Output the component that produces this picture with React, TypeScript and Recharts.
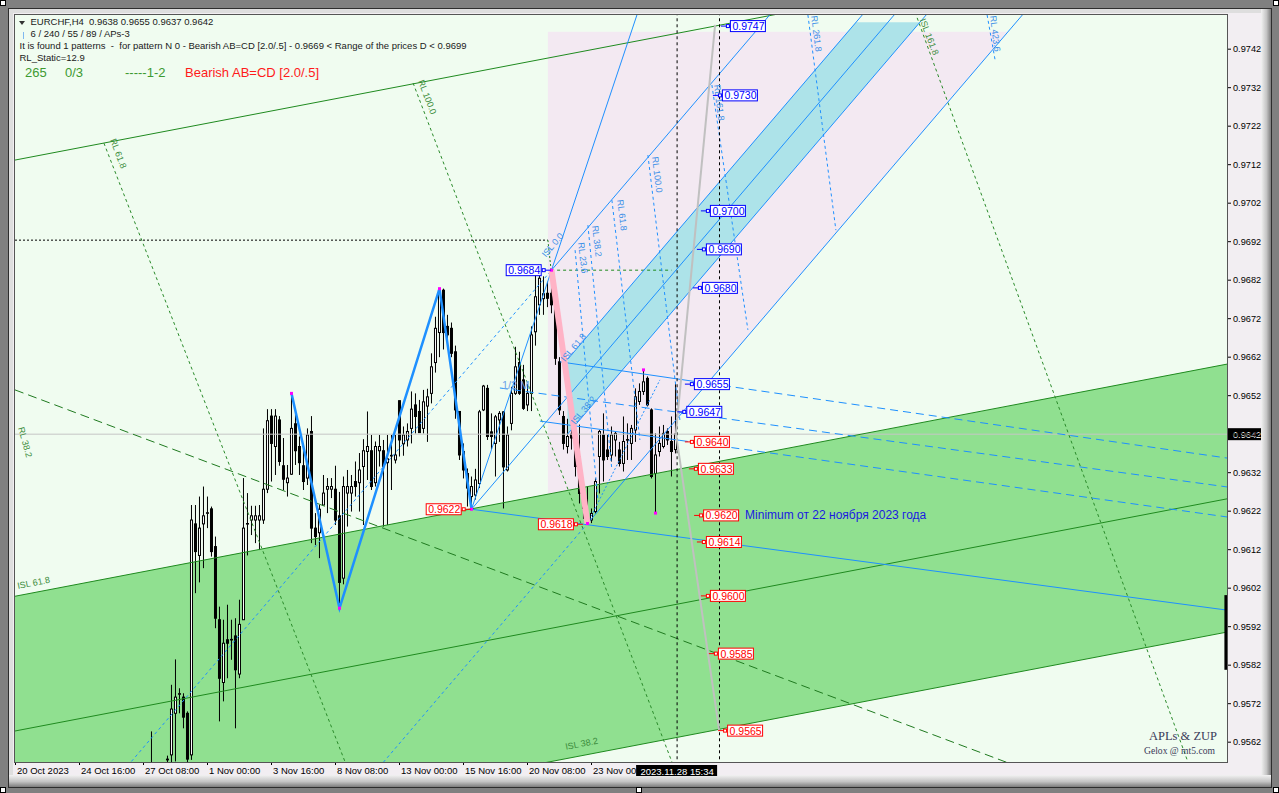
import React from 'react';
import { ComposedChart, Bar, Line, Area, XAxis, YAxis, CartesianGrid, ReferenceDot } from 'recharts';

// H4 bars numbered from 20 Oct 2023 00:00 (bar 0).
// null = bar entirely below the visible price range.
const FIRST_BAR = 34;

const opens = [
  0.95530, null, null, null, 0.95574, 0.95587, 0.95695, 0.95745, 0.95737, 0.95695,
  0.95587, 0.96187, 0.96105, 0.96187, 0.96215, 0.96226, 0.96128, 0.95938, 0.95775, 0.95886,
  0.95886, 0.95896, 0.95797, 0.95938, 0.96187, 0.96197, 0.96197, 0.96197, 0.96197, 0.96277,
  0.96467, 0.96388, 0.96457, 0.96338, 0.96294, 0.96316, 0.96447, 0.96388, 0.96338, 0.96306,
  0.96427, 0.96176, 0.96164, 0.96236, 0.96277, 0.96277, 0.96277, 0.96208, 0.96046, 0.96267,
  0.96267, 0.96297, 0.96294, 0.96336, 0.96375, 0.96377, 0.96294, 0.96377, 0.96377, 0.96346,
  0.96364, 0.96353, 0.96507, 0.96395, 0.96405, 0.96435, 0.96496, 0.96479, 0.96435, 0.96493,
  0.96526, 0.96606, 0.96684, 0.96794, 0.96700, 0.96695, 0.96634, 0.96479, 0.96375, 0.96318,
  0.96258, 0.96262, 0.96292, 0.96483, 0.96539, 0.96426, 0.96396, 0.96457, 0.96478, 0.96327,
  0.96448, 0.96526, 0.96606, 0.96561, 0.96496, 0.96526, 0.96686, 0.96756, 0.96772, 0.96786,
  0.96786, 0.96747, 0.96608, 0.96466, 0.96388, 0.96420, 0.96410, 0.96362, 0.96266, 0.96214,
  0.96197, 0.96219, 0.96362, 0.96418, 0.96379, 0.96366, 0.96405, 0.96379, 0.96344, 0.96405,
  0.96396, 0.96431, 0.96505, 0.96531, 0.96565, 0.96483, 0.96318, 0.96375, 0.96388, 0.96427,
  0.96401, 0.96380,
];
const highs = [
  0.95648, null, null, null, 0.95585, 0.95769, 0.95835, 0.95760, 0.95747, 0.95700,
  0.96236, 0.96236, 0.96258, 0.96284, 0.96258, 0.96232, 0.96154, 0.95972, 0.95938, 0.95977,
  0.95938, 0.95942, 0.95990, 0.96306, 0.96267, 0.96234, 0.96234, 0.96236, 0.96435, 0.96485,
  0.96485, 0.96485, 0.96467, 0.96410, 0.96340, 0.96526, 0.96474, 0.96414, 0.96388, 0.96435,
  0.96467, 0.96215, 0.96236, 0.96314, 0.96306, 0.96306, 0.96338, 0.96270, 0.96310, 0.96327,
  0.96314, 0.96349, 0.96371, 0.96407, 0.96479, 0.96418, 0.96401, 0.96418, 0.96405, 0.96418,
  0.96418, 0.96418, 0.96507, 0.96440, 0.96448, 0.96531, 0.96526, 0.96509, 0.96535, 0.96538,
  0.96630, 0.96725, 0.96798, 0.96798, 0.96730, 0.96710, 0.96650, 0.96480, 0.96396, 0.96331,
  0.96310, 0.96330, 0.96483, 0.96548, 0.96548, 0.96474, 0.96470, 0.96480, 0.96480, 0.96440,
  0.96543, 0.96647, 0.96634, 0.96600, 0.96550, 0.96700, 0.96835, 0.96835, 0.96830, 0.96816,
  0.96846, 0.96760, 0.96620, 0.96480, 0.96460, 0.96440, 0.96430, 0.96445, 0.96280, 0.96284,
  0.96227, 0.96305, 0.96431, 0.96474, 0.96418, 0.96440, 0.96427, 0.96400, 0.96466, 0.96448,
  0.96444, 0.96539, 0.96552, 0.96587, 0.96570, 0.96487, 0.96422, 0.96440, 0.96444, 0.96435,
  0.96466, 0.96550,
];
const lows = [
  0.95500, null, null, null, 0.95560, 0.95560, 0.95570, 0.95695, 0.95656, 0.95560,
  0.95574, 0.96007, 0.96035, 0.96072, 0.96176, 0.96102, 0.95916, 0.95674, 0.95726, 0.95786,
  0.95834, 0.95656, 0.95786, 0.95938, 0.96105, 0.96158, 0.96137, 0.96119, 0.96187, 0.96267,
  0.96297, 0.96314, 0.96338, 0.96275, 0.96258, 0.96314, 0.96340, 0.96314, 0.96275, 0.96288,
  0.96137, 0.96132, 0.96098, 0.96236, 0.96215, 0.96254, 0.96184, 0.95968, 0.96030, 0.96180,
  0.96219, 0.96258, 0.96219, 0.96184, 0.96301, 0.96275, 0.96284, 0.96336, 0.96180, 0.96184,
  0.96275, 0.96344, 0.96362, 0.96364, 0.96388, 0.96396, 0.96422, 0.96423, 0.96422, 0.96400,
  0.96500, 0.96580, 0.96620, 0.96640, 0.96656, 0.96620, 0.96460, 0.96353, 0.96305, 0.96232,
  0.96225, 0.96250, 0.96280, 0.96480, 0.96405, 0.96380, 0.96310, 0.96400, 0.96227, 0.96323,
  0.96430, 0.96522, 0.96522, 0.96483, 0.96480, 0.96480, 0.96650, 0.96730, 0.96730, 0.96750,
  0.96734, 0.96600, 0.96470, 0.96380, 0.96370, 0.96380, 0.96310, 0.96240, 0.96200, 0.96188,
  0.96189, 0.96214, 0.96266, 0.96297, 0.96353, 0.96349, 0.96362, 0.96336, 0.96323, 0.96353,
  0.96353, 0.96400, 0.96496, 0.96522, 0.96492, 0.96305, 0.96215, 0.96362, 0.96383, 0.96392,
  0.96310, 0.96370,
];
const closes = [
  0.95520, null, null, null, 0.95576, 0.95706, 0.95737, 0.95746, 0.95685, 0.95576,
  0.96197, 0.96115, 0.96176, 0.96208, 0.96216, 0.96115, 0.95942, 0.95786, 0.95877, 0.95877,
  0.95887, 0.95808, 0.95926, 0.96176, 0.96188, 0.96208, 0.96208, 0.96208, 0.96277, 0.96455,
  0.96396, 0.96467, 0.96349, 0.96303, 0.96306, 0.96435, 0.96377, 0.96346, 0.96297, 0.96418,
  0.96176, 0.96154, 0.96225, 0.96267, 0.96284, 0.96284, 0.96197, 0.96035, 0.96284, 0.96284,
  0.96284, 0.96284, 0.96327, 0.96377, 0.96388, 0.96284, 0.96388, 0.96388, 0.96336, 0.96356,
  0.96365, 0.96366, 0.96405, 0.96418, 0.96427, 0.96485, 0.96466, 0.96424, 0.96504, 0.96517,
  0.96595, 0.96695, 0.96794, 0.96684, 0.96678, 0.96630, 0.96483, 0.96366, 0.96327, 0.96280,
  0.96284, 0.96301, 0.96478, 0.96545, 0.96414, 0.96414, 0.96465, 0.96474, 0.96335, 0.96418,
  0.96526, 0.96595, 0.96526, 0.96487, 0.96526, 0.96678, 0.96777, 0.96825, 0.96785, 0.96773,
  0.96756, 0.96617, 0.96483, 0.96396, 0.96414, 0.96410, 0.96336, 0.96266, 0.96227, 0.96201,
  0.96214, 0.96297, 0.96427, 0.96353, 0.96362, 0.96418, 0.96422, 0.96344, 0.96401, 0.96406,
  0.96435, 0.96517, 0.96531, 0.96556, 0.96496, 0.96310, 0.96366, 0.96396, 0.96422, 0.96405,
  0.96375, 0.96420,
];

const xTicks = [0, 16, 32, 48, 64, 80, 96, 112, 128, 144];
const xTickLabels = ['20 Oct 2023', '24 Oct 16:00', '27 Oct 08:00', '1 Nov 00:00', '3 Nov 16:00',
  '8 Nov 08:00', '13 Nov 00:00', '15 Nov 16:00', '20 Nov 08:00', '23 Nov 00'];
const yTicks = [0.9562, 0.9572, 0.9582, 0.9592, 0.9602, 0.9612, 0.9622, 0.9632, 0.9642, 0.9652,
  0.9662, 0.9672, 0.9682, 0.9692, 0.9702, 0.9712, 0.9722, 0.9732, 0.9742];
const currentPrice = 0.9642;
const cursorBar = 165.4;
const cursorTime = '2023.11.28 15:34';

// swing points [bar, price]
const zigzag = [[69, 0.96526], [81, 0.95968], [106, 0.96798], [114, 0.96225]];
const cdLeg = [[134, 0.96846], [143, 0.96188]];
const swingDots = [[69, 0.96526], [81, 0.95968], [106, 0.96798], [114, 0.96225], [134, 0.96846],
  [143, 0.96188], [157, 0.96587], [160, 0.96215]];

// pitchfork from 0.9622 / 0.9684 / 0.9618
const median = [[114, 0.96225], [240, 0.97756]];
const upperTine = [[134, 0.96846], [200, 0.97648]];
const upperTineBack = [[28, 0.95558], [134, 0.96846]];
const lowerTine = [[143, 0.96188], [270, 0.97731]];
const lowerTineBack = [[90, 0.95544], [143, 0.96188]];
const bandUpper = [[138, 0.96614], [215, 0.97549]];
const bandLower = [[138, 0.9642], [235, 0.97598]];
const bandFill = [{ i: 138, r: [0.9642, 0.96614] }, { i: 210.1, r: [0.97296, 0.9749] }, { i: 226.1, r: [0.9749, 0.9749] }];
const steepLine = [[114, 0.96225], [160, 0.97653]];

// ISL channel (green)
const channelTop = [[-0.125, 0.97132], [200, 0.9753]];
const channelUpper = [[-0.125, 0.95999], [302.875, 0.96602]];
const channelMid = [[-0.125, 0.95649], [302.875, 0.96252]];
const channelLower = [[-0.125, 0.95303], [302.875, 0.95906]];
const channelFill = [{ i: -0.125, r: [0.95303, 0.95999] }, { i: 302.875, r: [0.95906, 0.96602] }];
const zoneFillA = [{ i: 133.1, r: [0.96264, 0.97465] }, { i: 165.4, r: [0.96328, 0.97465] }];
const zoneFillB = [{ i: 165.4, r: [0.9646, 0.97465] }, { i: 248.1, r: [0.97465, 0.97465] }];
const greenDashed = [[-0.125, 0.96535], [260, 0.9552]];
const greenDotted = [
  [[22.1, 0.97176], [84, 0.95526]],
  [[99.4, 0.97332], [166, 0.95517]],
  [[224.9, 0.97516], [294, 0.95543]],
];
const level9684 = [[133.9, 0.96846], [164, 0.96846]];
const level9692 = [[-0.125, 0.96924], [133.1, 0.96924]];
const tick9692 = [[133.1, 0.96924], [133.9, 0.96846]];

// blue lines to the right
const solidBlue = [
  [[136.1, 0.96608], [170.4, 0.96556]],
  [[131.1, 0.96454], [166.1, 0.96404]],
  [[114, 0.96225], [302.875, 0.95963]],
];
const dashedBlue = [
  [[170.4, 0.96556], [302.875, 0.96358]],
  [[121.1, 0.9654], [302.875, 0.96283]],
  [[166.1, 0.96404], [302.875, 0.96205]],
];
const dottedBlue = [[143, 0.96188], [161.1, 0.96561]];
const rlLines = [
  [[139.9, 0.96898], [145.6, 0.96249]],
  [[143.1, 0.96963], [149.1, 0.96327]],
  [[149.1, 0.97028], [156.1, 0.96405]],
  [[158.1, 0.97145], [166.1, 0.96457]],
  [[174.1, 0.97327], [183.1, 0.96691]],
  [[198.1, 0.97509], [205.1, 0.9695]],
  [[242.9, 0.97509], [244.9, 0.97392]],
];
const grayUp = [[165.1, 0.96423], [174.9, 0.97483]];
const grayDown = [[165.1, 0.96423], [175.9, 0.95652]];
const verticals = [[[165.4, 0.9556], [165.4, 0.9752]], [[176, 0.9556], [176, 0.9752]]];
const edgeBar = [[302.6, 0.96002], [302.6, 0.95808]];

// price boxes: text, bar, price
const blueLevels = [['0.9747', 178.6, 0.9748], ['0.9730', 176.6, 0.9730], ['0.9700', 173.6, 0.9700],
  ['0.9690', 172.6, 0.9690], ['0.9680', 171.6, 0.9680], ['0.9655', 169.6, 0.9655], ['0.9647', 167.7, 0.96478]];
const redLevels = [['0.9640', 169.6, 0.9640], ['0.9633', 170.6, 0.9633], ['0.9620', 171.9, 0.96209],
  ['0.9614', 172.6, 0.9614], ['0.9600', 173.6, 0.9600], ['0.9585', 175.6, 0.9585], ['0.9565', 177.9, 0.9565]];
const pointLevels = [['0.9684', 131.55, 0.96846, '#0000ff'], ['0.9622', 111.55, 0.96225, '#ff0000'],
  ['0.9618', 139.6, 0.96186, '#ff0000']];

// rotated captions: text, bar, price, angle
const blueCaptions = [['RL 23.6', 140.6, 0.96917, 83], ['RL 38.2', 144.1, 0.96961, 83], ['RL 61.8', 150.4, 0.97028, 83],
  ['RL 100.0', 159.1, 0.9714, 83], ['RL 161.8', 174.6, 0.97327, 83], ['RL 261.8', 198.9, 0.97506, 83],
  ['RL 423.6', 243.6, 0.97506, 83], ['ISL 0.0', 132.6, 0.96878, -50], ['ISL 61.8', 137.4, 0.96607, -50],
  ['ISL 38.2', 139.9, 0.96444, -50]];
const greenCaptions = [['RL 61.8', 23.6, 0.97184, 69], ['RL 100.0', 100.6, 0.97337, 69], ['RL 38.2', 0.6, 0.96436, 74],
  ['ISL 61.8', 0.6, 0.96018, -11], ['ISL 38.2', 137.6, 0.9560, -11], ['ISL 161.8', 226, 0.97496, 69]];

const candleRows = opens
  .map((o, k) => (o == null ? null : {
    i: FIRST_BAR + k, o, h: highs[k] as number, l: lows[k] as number, c: closes[k] as number,
    range: [lows[k] as number, highs[k] as number],
  }))
  .filter(Boolean) as any[];

const FONT = '"Liberation Sans", Arial, sans-serif';

const Candle = (props: any) => {
  const { x, y, width, height, payload } = props;
  if (!payload || height == null) return null;
  const { o, h, l, c } = payload;
  const top = Math.min(y, y + height);
  const hh = Math.abs(height);
  const k = hh / (h - l || 1e-9);
  const cx = x + width / 2;
  const b1 = top + (h - Math.max(o, c)) * k;
  const b2 = top + (h - Math.min(o, c)) * k;
  const bull = c >= o;
  return (
    <g>
      <line x1={cx} x2={cx} y1={top} y2={top + hh} stroke="#000" strokeWidth={1} />
      <rect x={cx - 1} y={b1} width={2} height={Math.max(b2 - b1, 0.6)} fill={bull ? '#fff' : '#000'} stroke="#000" strokeWidth={1} />
    </g>
  );
};

const seg = (key: string, pts: any[], stroke: string, width = 1, dash?: string) => (
  <Line key={key} data={pts.map(([i, v]: number[]) => ({ i, v }))} dataKey="v" type="linear" stroke={stroke}
    strokeWidth={width} strokeDasharray={dash} dot={false} activeDot={false} isAnimationActive={false}
    legendType="none" />
);

const priceBox = (text: string, color: string, side: 'right' | 'left') => (props: any) => {
  const { cx, cy } = props;
  if (side === 'right') {
    return (
      <g>
        <line x1={cx - 9} y1={cy} x2={cx} y2={cy} stroke={color} />
        <rect x={cx - 3.5} y={cy - 1.5} width={3} height={3} fill="#fff" stroke={color} />
        <rect x={cx + 0.5} y={cy - 5.5} width={35} height={11} fill="#fff" stroke={color} />
        <text x={cx + 2.5} y={cy + 4} fontSize={10.5} fontFamily={FONT} fill={color}>{text}</text>
      </g>
    );
  }
  return (
    <g>
      <line x1={cx} y1={cy} x2={cx + 9} y2={cy} stroke={color} />
      <rect x={cx + 0.5} y={cy - 1.5} width={3} height={3} fill="#fff" stroke={color} />
      <rect x={cx - 35.5} y={cy - 5.5} width={35} height={11} fill="#fff" stroke={color} />
      <text x={cx - 33.5} y={cy + 4} fontSize={10.5} fontFamily={FONT} fill={color}>{text}</text>
    </g>
  );
};

const caption = (text: string, color: string, angle: number, size = 9) => (props: any) => {
  const { cx, cy } = props;
  return (
    <text x={cx} y={cy} fontSize={size} fontFamily={FONT} fill={color} transform={`rotate(${angle} ${cx} ${cy})`}>{text}</text>
  );
};

const XTick = (props: any) => {
  const { x, y, payload } = props;
  const idx = xTicks.indexOf(payload.value);
  return (
    <text x={x + 1.5} y={y + 7} fontSize={9.5} fontFamily={FONT} fill="#000">{xTickLabels[idx]}</text>
  );
};

export default function App() {
  return (
    <div style={{ position: 'relative', width: 1279, height: 793, background: '#808080', overflow: 'hidden' }}>
      <style>{'body{margin:0}'}</style>
      <div style={{ position: 'absolute', left: 8, top: 8, width: 1264, height: 780, background: '#c8c8c8', border: '1px solid #2e2e2e', boxSizing: 'border-box' }} />
      <div style={{ position: 'absolute', left: 9, top: 9, width: 1252, height: 766, background: '#f2eef2' }} />
      <div style={{ position: 'absolute', left: 1261, top: 9, width: 10, height: 778, background: 'linear-gradient(to right, #f2f2f2, #c4c4c4 55%, #7c7c7c)' }} />
      <div style={{ position: 'absolute', left: 9, top: 775, width: 1262, height: 12, background: 'linear-gradient(to bottom, #f2f2f2, #c4c4c4 55%, #7c7c7c)' }} />
      <div style={{ position: 'absolute', left: 9, top: 9, width: 1252, height: 4, background: '#dedede' }} />
      <div style={{ position: 'absolute', left: 9, top: 9, width: 4, height: 766, background: '#dedede' }} />

      <div style={{ position: 'absolute', left: 10, top: 10 }}>
        <ComposedChart width={1256} height={766} data={candleRows} margin={{ top: 5, right: 0, bottom: 0, left: 5 }}>
          <CartesianGrid horizontal={false} vertical={false} fill="#f0fcf0" />
          <XAxis type="number" dataKey="i" domain={[-0.125, 302.875]} allowDataOverflow ticks={xTicks} interval={0}
            tick={<XTick />} tickSize={3} tickLine={{ stroke: '#000' }} axisLine={false} height={14} />
          <YAxis orientation="right" type="number" domain={[0.955685, 0.975088]} allowDataOverflow ticks={yTicks}
            interval={0} width={39} tickSize={4} tickLine={{ stroke: '#000' }} axisLine={false}
            tickFormatter={(v: number) => v.toFixed(4)}
            tick={{ fontSize: 9.2, fontFamily: FONT, fill: '#000' }} />

          <Area data={channelFill} dataKey="r" type="linear" stroke="none" fill="#90e090" fillOpacity={1} dot={false} activeDot={false} isAnimationActive={false} legendType="none" />
          <Area data={zoneFillA} dataKey="r" type="linear" stroke="none" fill="#f3e9f2" fillOpacity={1} dot={false} activeDot={false} isAnimationActive={false} legendType="none" />
          <Area data={zoneFillB} dataKey="r" type="linear" stroke="none" fill="#f3e9f2" fillOpacity={1} dot={false} activeDot={false} isAnimationActive={false} legendType="none" />
          <Area data={bandFill} dataKey="r" type="linear" stroke="none" fill="#ade3e9" fillOpacity={1} dot={false} activeDot={false} isAnimationActive={false} legendType="none" />

          {seg('cur', [[-0.125, currentPrice], [302.875, currentPrice]], '#c6c6c6')}
          {seg('chTop', channelTop, '#1f8a1f')}
          {seg('chUp', channelUpper, '#1f8a1f')}
          {seg('chMid', channelMid, '#1f8a1f')}
          {seg('chLow', channelLower, '#1f8a1f')}
          {seg('gDash', greenDashed, '#1f7a1f', 1, '9 5')}
          {greenDotted.map((s, k) => seg('gDot' + k, s, '#2a8a2a', 1, '3 3'))}
          {seg('l9684', level9684, '#1f8a1f', 1, '3 3')}
          {seg('l9692', level9692, '#000', 1, '2 2')}
          {seg('t9692', tick9692, '#1f8a1f', 1, '2 2')}
          {seg('steep', steepLine, '#1e90ff')}
          {seg('med', median, '#1e90ff')}
          {seg('upT', upperTine, '#1e90ff')}
          {seg('upTb', upperTineBack, '#1e90ff', 1, '3 3')}
          {seg('loT', lowerTine, '#1e90ff')}
          {seg('loTb', lowerTineBack, '#1e90ff', 1, '3 3')}
          {seg('bU', bandUpper, '#1e90ff')}
          {seg('bL', bandLower, '#1e90ff')}
          {solidBlue.map((s, k) => seg('sb' + k, s, '#1e90ff'))}
          {dashedBlue.map((s, k) => seg('db' + k, s, '#1e90ff', 1, '8 5'))}
          {seg('dotB', dottedBlue, '#1e90ff', 1, '2 2')}
          {rlLines.map((s, k) => seg('rl' + k, s, '#1e90ff', 1, '3 3'))}
          {seg('cd', cdLeg, '#ffb3c6', 6)}
          {verticals.map((s, k) => seg('v' + k, s, '#000', 1, '3 3'))}
          {seg('gU', grayUp, '#c0c0c0', 2)}
          {seg('gD', grayDown, '#c0c0c0', 2)}

          <Bar dataKey="range" barSize={3} shape={<Candle />} isAnimationActive={false} legendType="none" />

          {seg('zz', zigzag, '#1e90ff', 2.5)}
          {seg('edge', edgeBar, '#000', 3)}

          {swingDots.map(([i, p], k) => (
            <ReferenceDot key={'sd' + k} x={i} y={p} ifOverflow="visible"
              shape={(pr: any) => <rect x={pr.cx - 1.5} y={pr.cy - 1.5} width={3} height={3} fill="#ff00ff" />} />
          ))}
          {blueCaptions.map(([t, i, p, a], k) => (
            <ReferenceDot key={'bc' + k} x={i as number} y={p as number} ifOverflow="visible" shape={caption(t as string, '#3a8fe8', a as number)} />
          ))}
          {greenCaptions.map(([t, i, p, a], k) => (
            <ReferenceDot key={'gc' + k} x={i as number} y={p as number} ifOverflow="visible" shape={caption(t as string, '#3d8d3d', a as number)} />
          ))}
          <ReferenceDot x={121.6} y={0.96537} ifOverflow="visible" shape={caption('1/2 M', '#6fa4e8', 0, 11)} />
          {blueLevels.map(([t, i, p], k) => (
            <ReferenceDot key={'bl' + k} x={i as number} y={p as number} ifOverflow="visible" shape={priceBox(t as string, '#0000ff', 'right')} />
          ))}
          {redLevels.map(([t, i, p], k) => (
            <ReferenceDot key={'rl' + k} x={i as number} y={p as number} ifOverflow="visible" shape={priceBox(t as string, '#ff0000', 'right')} />
          ))}
          {pointLevels.map(([t, i, p, col], k) => (
            <ReferenceDot key={'pl' + k} x={i as number} y={p as number} ifOverflow="visible" shape={priceBox(t as string, col as string, 'left')} />
          ))}
          <ReferenceDot x={182.4} y={0.96209} ifOverflow="visible"
            shape={(pr: any) => <text x={pr.cx} y={pr.cy + 4} fontSize={12} fontFamily={FONT} fill="#1a1ae0">Minimum от 22  ноября 2023 года</text>} />
          <ReferenceDot x={302.875} y={currentPrice} ifOverflow="visible"
            shape={(pr: any) => (
              <g>
                <rect x={pr.cx + 1} y={pr.cy - 6} width={33} height={12} fill="#000" />
                <text x={pr.cx + 6} y={pr.cy + 3.5} fontSize={9.2} fontFamily={FONT} fill="#fff">{currentPrice.toFixed(4)}</text>
              </g>
            )} />
          <ReferenceDot x={cursorBar} y={0.955685} ifOverflow="visible"
            shape={(pr: any) => (
              <g>
                <rect x={pr.cx - 41} y={pr.cy + 3} width={81} height={12} fill="#000" />
                <text x={pr.cx} y={pr.cy + 12.5} fontSize={9.5} fontFamily={FONT} fill="#fff" textAnchor="middle">{cursorTime}</text>
              </g>
            )} />
        </ComposedChart>
      </div>

      <div style={{ position: 'absolute', left: 14, top: 14, width: 1214, height: 749, border: '1px solid #555', boxSizing: 'border-box', pointerEvents: 'none' }} />

      <div style={{ position: 'absolute', left: 19, top: 21, width: 0, height: 0, borderLeft: '3px solid transparent', borderRight: '3px solid transparent', borderTop: '4px solid #333' }} />
      <div style={{ position: 'absolute', left: 23, top: 32, width: 1, height: 7, background: '#7fb8f0' }} />
      <div style={{ position: 'absolute', left: 0, top: 0, fontFamily: FONT, fontSize: 9.5, color: '#1a1a1a', whiteSpace: 'pre', lineHeight: '12px' }}>
        <div style={{ position: 'absolute', left: 30.5, top: 16 }}>EURCHF,H4  0.9638 0.9655 0.9637 0.9642</div>
        <div style={{ position: 'absolute', left: 30.5, top: 28 }}>6 / 240 / 55 / 89 / APs-3</div>
        <div style={{ position: 'absolute', left: 19.5, top: 40 }}>It is found 1 patterns  -  for pattern N 0 - Bearish AB=CD [2.0/.5] - 0.9669 &lt; Range of the prices D &lt; 0.9699</div>
        <div style={{ position: 'absolute', left: 19.5, top: 52 }}>RL_Static=12.9</div>
      </div>
      <div style={{ position: 'absolute', left: 0, top: 0, fontFamily: FONT, fontSize: 13, whiteSpace: 'pre', lineHeight: '15px' }}>
        <div style={{ position: 'absolute', left: 25, top: 65, color: '#3d9a30' }}>265</div>
        <div style={{ position: 'absolute', left: 65, top: 65, color: '#3d9a30' }}>0/3</div>
        <div style={{ position: 'absolute', left: 125, top: 65, color: '#3d9a30' }}>-----1-2</div>
        <div style={{ position: 'absolute', left: 185, top: 65, color: '#ff1a1a' }}>Bearish AB=CD [2.0/.5]</div>
      </div>
      <div style={{ position: 'absolute', left: 1149, top: 729, fontFamily: '"Liberation Serif", serif', fontSize: 12.5, color: '#3a3a58', whiteSpace: 'pre' }}>APLs &amp; ZUP</div>
      <div style={{ position: 'absolute', left: 1144, top: 745, fontFamily: '"Liberation Serif", serif', fontSize: 9.6, color: '#3a3a58', whiteSpace: 'pre' }}>Gelox @ mt5.com</div>

      {[[0, 0], [1273, 0], [0, 787], [636, 787], [1273, 787]].map(([l, t], k) => (
        <div key={'h' + k} style={{ position: 'absolute', left: l, top: t, width: 6, height: 6, background: '#fff', border: '1px solid #000', boxSizing: 'border-box' }} />
      ))}
    </div>
  );
}
